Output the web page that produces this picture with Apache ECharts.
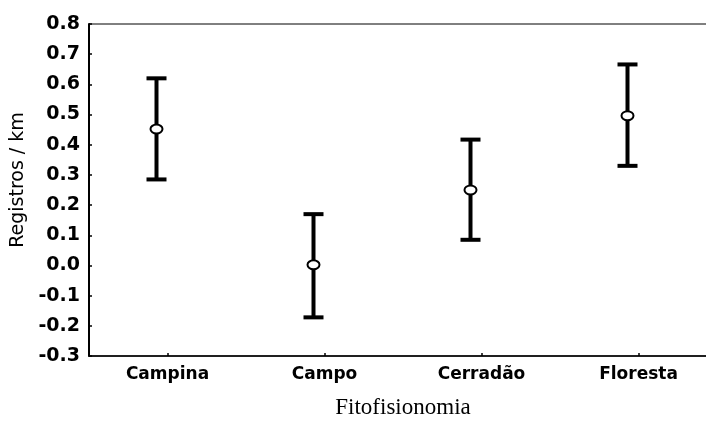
<!DOCTYPE html>
<html>
<head>
<meta charset="utf-8">
<script src="https://cdn.jsdelivr.net/npm/echarts@6/dist/echarts.min.js"></script>
<style>
  html, body { margin: 0; padding: 0; background: #fff; }
  #chart { width: 706px; height: 421px; }
</style>
</head>
<body>
<div id="chart"></div>
<script>
// Registros por km em cada fitofisionomia: média e limites do intervalo
const categories = ['Campina', 'Campo', 'Cerradão', 'Floresta'];
const means = [0.452, 0.002, 0.250, 0.496];
const lowerLimits = [0.285, -0.172, 0.085, 0.330];
const upperLimits = [0.620, 0.170, 0.417, 0.666];
const yTickLabels = ['-0.3', '-0.2', '-0.1', '0.0', '0.1', '0.2', '0.3', '0.4', '0.5', '0.6', '0.7', '0.8'];

const barData = categories.map((c, i) => [i, means[i], lowerLimits[i], upperLimits[i]]);

// error bars sit slightly left of their category tick
const markerShift = -11;

const chart = echarts.init(document.getElementById('chart'), null, { renderer: 'canvas' });

chart.setOption({
  animation: false,
  backgroundColor: '#fff',
  grid: {
    left: 89, right: -11, top: 24, bottom: 65,
    containLabel: false,
    outerBoundsMode: 'none',
    show: true, borderColor: '#000', borderWidth: 1, backgroundColor: 'transparent'
  },
  xAxis: {
    type: 'category',
    data: categories,
    boundaryGap: true,
    axisLine: { show: true, onZero: false, lineStyle: { color: '#000', width: 1.5 } },
    axisTick: { show: true, inside: true, alignWithLabel: true, length: 3, lineStyle: { color: '#000', width: 1.5 } },
    axisLabel: {
      color: '#000', fontFamily: 'DejaVu Sans', fontWeight: 'bold', fontSize: 17, margin: 10
    },
    name: 'Fitofisionomia',
    nameLocation: 'middle',
    nameGap: 40,
    nameTextStyle: { color: '#000', fontFamily: 'Liberation Serif', fontSize: 23 },
    splitLine: { show: false }
  },
  yAxis: {
    type: 'value',
    min: -0.3,
    max: 0.8,
    interval: 0.1,
    axisLine: { show: true, lineStyle: { color: '#000', width: 2 } },
    axisTick: { show: true, inside: true, length: 3, lineStyle: { color: '#000', width: 1.5 } },
    axisLabel: {
      color: '#000', fontFamily: 'DejaVu Sans', fontWeight: 'bold', fontSize: 19, margin: 9,
      formatter: (v) => {
        const idx = Math.round((v + 0.3) * 10);
        return yTickLabels[idx] !== undefined ? yTickLabels[idx] : '';
      }
    },
    splitLine: { show: false },
    name: 'Registros / km',
    nameLocation: 'middle',
    nameGap: 58,
    nameTextStyle: { color: '#000', fontFamily: 'DejaVu Sans', fontSize: 19, padding: [0, 0, 0, 20] }
  },
  series: [{
    type: 'custom',
    data: barData,
    encode: { x: 0, y: [1, 2, 3] },
    renderItem: function (params, api) {
      const idx = api.value(0);
      const x = api.coord([idx, 0])[0] + markerShift;
      const yMid = api.coord([idx, api.value(1)])[1];
      const yLo = api.coord([idx, api.value(2)])[1];
      const yHi = api.coord([idx, api.value(3)])[1];
      const capHalf = 10;
      const stroke = { stroke: '#000', lineWidth: 4 };
      return {
        type: 'group',
        children: [
          { type: 'line', shape: { x1: x, y1: yHi, x2: x, y2: yLo }, style: stroke },
          { type: 'line', shape: { x1: x - capHalf, y1: yHi, x2: x + capHalf, y2: yHi }, style: stroke },
          { type: 'line', shape: { x1: x - capHalf, y1: yLo, x2: x + capHalf, y2: yLo }, style: stroke },
          { type: 'ellipse', shape: { cx: x, cy: yMid, rx: 6, ry: 4.5 },
            style: { fill: '#fff', stroke: '#000', lineWidth: 2 } }
        ]
      };
    }
  }]
});
</script>
</body>
</html>
